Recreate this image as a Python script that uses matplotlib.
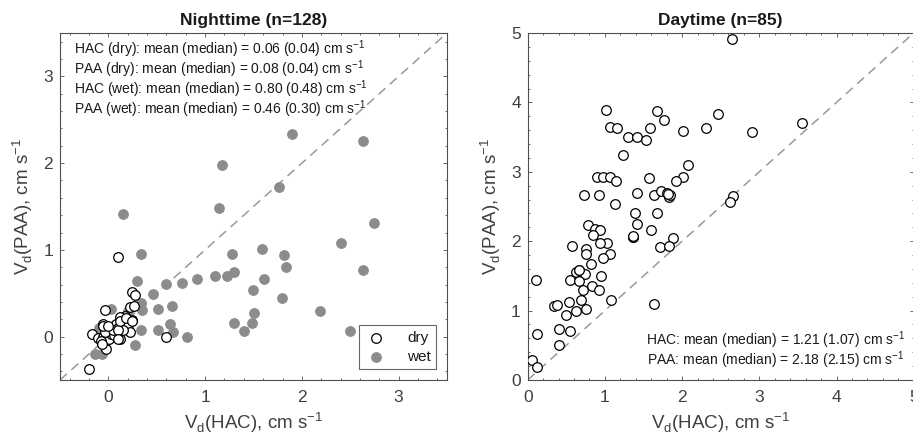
import numpy as np
import matplotlib
matplotlib.use("Agg")
import matplotlib.pyplot as plt
from matplotlib.ticker import MultipleLocator

plt.rcParams['font.family'] = ['Liberation Sans', 'DejaVu Sans']
plt.rcParams['mathtext.fontset'] = 'custom'
plt.rcParams['mathtext.rm'] = 'Liberation Sans'

# ---- nighttime data (HAC, PAA), cm s-1
night_dry_hac = [0.10, 0.60, -0.20, 0.24, 0.28, -0.03, 0.22, 0.26, 0.17, 0.12,
                 0.24, -0.06, 0.08, 0.10, 0.20, -0.17, -0.11, -0.06, -0.05, 0.01,
                 0.04, 0.12, 0.22, 0.15, 0.03, -0.03, 0.06, -0.08, -0.06, -0.02,
                 0.045, 0.10, 0.12, 0.18, 0.24, -0.065, 0.10, 0.0]
night_dry_paa = [0.92, 0.00, -0.37, 0.51, 0.48, 0.31, 0.34, 0.35, 0.24, 0.23,
                 0.19, 0.14, 0.15, 0.10, 0.13, 0.03, -0.02, -0.01, -0.08, -0.03,
                 0.08, -0.03, 0.05, 0.08, 0.03, 0.05, 0.02, -0.05, 0.12, -0.14,
                 0.08, 0.08, 0.18, 0.22, 0.18, -0.09, -0.03, 0.12]

night_wet_hac = [1.90, 2.63, 1.17, 1.76, 1.14, 0.15, 2.75, 2.40, 1.59, 0.34,
                 1.28, 1.82, 1.84, 2.63, 1.30, 1.10, 1.23, 0.92, 1.61, 0.30,
                 0.76, 0.60, 0.46, 1.49, 1.79, 0.34, 0.51, 0.66, 0.35, 2.19,
                 1.51, 0.03, 0.64, 1.30, 1.48, 0.34, 0.51, 0.67, 1.40, 2.50,
                 0.81, 0.28, -0.14, -0.07, 0.00, -0.05, 0.10, 0.20, -0.10]
night_wet_paa = [2.33, 2.26, 1.98, 1.72, 1.48, 1.41, 1.31, 1.08, 1.01, 0.95,
                 0.95, 0.94, 0.80, 0.77, 0.74, 0.70, 0.70, 0.67, 0.67, 0.64,
                 0.62, 0.61, 0.49, 0.54, 0.44, 0.39, 0.32, 0.35, 0.31, 0.30,
                 0.27, 0.32, 0.15, 0.16, 0.16, 0.08, 0.08, 0.05, 0.06, 0.07,
                 0.00, -0.10, -0.20, -0.20, 0.05, -0.10, 0.15, 0.30, 0.10]

# ---- daytime data (HAC, PAA), cm s-1
day_hac = [2.64, 1.01, 1.67, 2.46, 1.76, 3.55, 1.06, 1.16, 1.58, 2.31,
           2.01, 2.91, 1.30, 1.41, 1.53, 1.23, 2.07, 0.90, 0.98, 1.07,
           1.57, 2.01, 1.14, 1.92, 0.73, 0.92, 1.41, 1.63, 1.73, 1.80,
           1.83, 1.84, 2.66, 2.62, 1.13, 1.39, 1.68, 1.42, 0.78, 0.87,
           0.94, 1.60, 0.84, 1.36, 1.37, 1.88, 1.03, 0.94, 0.58, 1.71,
           1.83, 0.75, 0.76, 1.06, 0.98, 0.82, 0.63, 0.66, 0.74, 0.55,
           0.66, 0.11, 0.95, 0.83, 0.71, 0.92, 1.08, 0.69, 0.53, 1.63,
           0.34, 0.38, 0.62, 0.75, 0.49, 0.40, 0.55, 0.12, 0.40, 0.06,
           0.12, 0.67, 1.82, 1.37]
day_paa = [4.91, 3.89, 3.87, 3.83, 3.75, 3.70, 3.65, 3.63, 3.63, 3.63,
           3.59, 3.58, 3.50, 3.50, 3.46, 3.24, 3.10, 2.93, 2.93, 2.93,
           2.91, 2.93, 2.87, 2.87, 2.67, 2.66, 2.70, 2.67, 2.73, 2.70,
           2.64, 2.66, 2.65, 2.56, 2.54, 2.41, 2.40, 2.25, 2.24, 2.17,
           2.16, 2.16, 2.09, 2.06, 2.06, 2.05, 1.98, 1.97, 1.93, 1.91,
           1.93, 1.89, 1.81, 1.82, 1.76, 1.67, 1.56, 1.59, 1.53, 1.44,
           1.43, 1.44, 1.50, 1.36, 1.30, 1.29, 1.15, 1.15, 1.12, 1.09,
           1.06, 1.08, 1.00, 1.03, 0.93, 0.74, 0.71, 0.67, 0.50, 0.29,
           0.19, 1.58, 2.68, 2.07]

night_stats = ["HAC (dry): mean (median) = 0.06 (0.04) cm s$^\\mathregular{-1}$",
               "PAA (dry): mean (median) = 0.08 (0.04) cm s$^\\mathregular{-1}$",
               "HAC (wet): mean (median) = 0.80 (0.48) cm s$^\\mathregular{-1}$",
               "PAA (wet): mean (median) = 0.46 (0.30) cm s$^\\mathregular{-1}$"]
day_stats = ["HAC: mean (median) = 1.21 (1.07) cm s$^\\mathregular{-1}$",
             "PAA: mean (median) = 2.18 (2.15) cm s$^\\mathregular{-1}$"]

axcol = "#505050"
wetcol = "#8c8c8c"
msize = 48
xlab = "V$_\\mathregular{d}$(HAC), cm s$^\\mathregular{-1}$"
ylab = "V$_\\mathregular{d}$(PAA), cm s$^\\mathregular{-1}$"

fig = plt.figure(figsize=(9.13, 4.4), dpi=100)
ax1 = fig.add_axes([60/913, 60/440, 387/913, 347/440])
ax2 = fig.add_axes([527.7/913, 60/440, 386/913, 347/440])


def style(ax, lo, hi):
    ax.set_xlim(lo, hi)
    ax.set_ylim(lo, hi)
    ax.plot([lo, hi], [lo, hi], ls=(0, (6, 4)), color="#999999", lw=1.1, zorder=1)
    ax.xaxis.set_major_locator(MultipleLocator(1))
    ax.yaxis.set_major_locator(MultipleLocator(1))
    ax.xaxis.set_minor_locator(MultipleLocator(0.2))
    ax.yaxis.set_minor_locator(MultipleLocator(0.2))
    ax.tick_params(which="both", direction="in", top=True, right=True,
                   colors=axcol, labelcolor="#404040", labelsize=12.5, width=0.6)
    ax.tick_params(which="major", length=3)
    ax.tick_params(which="minor", length=1.6)
    ax.tick_params(axis="x", pad=7)
    ax.tick_params(axis="y", pad=5)
    for s in ax.spines.values():
        s.set_color(axcol)
        s.set_linewidth(0.8)
    ax.set_xlabel(xlab, fontsize=13.5, color="#404040", labelpad=4)
    ax.set_ylabel(ylab, fontsize=13.5, color="#404040", labelpad=6)


style(ax1, -0.5, 3.5)
ax1.scatter(night_wet_hac, night_wet_paa, s=msize, color=wetcol, edgecolors=wetcol,
            lw=0.8, zorder=2, label="wet")
ax1.scatter(night_dry_hac, night_dry_paa, s=msize, facecolors="white", edgecolors="black",
            lw=0.9, zorder=3, label="dry")
ax1.set_title("Nighttime (n=128)", fontsize=12.5, fontweight="bold", color="#1a1a1a", pad=6)
for k, t in enumerate(night_stats):
    ax1.text(0.036, 0.954 - 0.0577 * k, t, transform=ax1.transAxes, fontsize=10,
             va="center", ha="left", color="#1a1a1a")
h, l = ax1.get_legend_handles_labels()
leg = ax1.legend(h[::-1], l[::-1], loc="lower right", fontsize=11, fancybox=False,
                 framealpha=1, edgecolor="#666666", markerfirst=True,
                 handletextpad=1.3, borderaxespad=0.7, borderpad=0.35,
                 labelspacing=0.35, handlelength=1.5, alignment="right")
leg.get_frame().set_linewidth(0.8)
for t in leg.get_texts():
    t.set_color("#1a1a1a")

style(ax2, 0, 5)
ax2.scatter(day_hac, day_paa, s=msize, facecolors="white", edgecolors="black", lw=0.9, zorder=3)
ax2.set_title("Daytime (n=85)", fontsize=12.5, fontweight="bold", color="#1a1a1a", pad=6)
for k, t in enumerate(day_stats):
    ax2.text(0.977, 0.115 - 0.0577 * k, t, transform=ax2.transAxes, fontsize=10,
             va="center", ha="right", color="#1a1a1a")

fig.savefig("out.png", dpi=100)
